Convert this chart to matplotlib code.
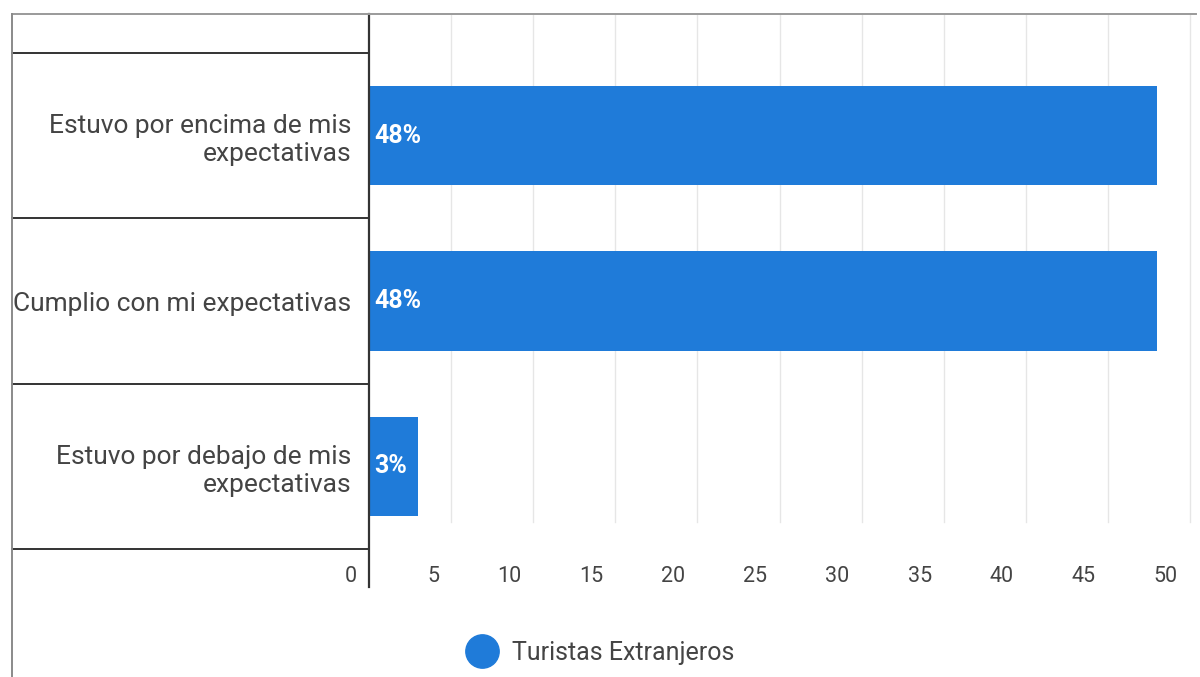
import matplotlib
matplotlib.use("Agg")
import matplotlib.pyplot as plt
from matplotlib.lines import Line2D
from matplotlib.transforms import ScaledTranslation, blended_transform_factory

plt.rcParams["font.family"] = ["Roboto", "DejaVu Sans"]

categories = [
    "Estuvo por encima de mis\nexpectativas",
    "Cumplio con mi expectativas",
    "Estuvo por debajo de mis\nexpectativas",
]
values = [48, 48, 3]
value_labels = ["48%", "48%", "3%"]
series_name = "Turistas Extranjeros"
x_ticks = [0, 5, 10, 15, 20, 25, 30, 35, 40, 45, 50]

BLUE = "#1f7bd9"
TEXT = "#444444"
W, H = 1200, 677

fig = plt.figure(figsize=(W / 100, H / 100), dpi=100)
fig.patch.set_facecolor("white")

# plot area in pixel terms: x 369..1190, y 53..549
left, right, top, bottom = 369, 1190, 53, 549
ax = fig.add_axes([left / W, 1 - bottom / H, (right - left) / W, (bottom - top) / H])
ax.set_facecolor("none")

ypos = list(range(len(categories)))
ax.barh(ypos, values, height=0.6, color=BLUE, zorder=3)
ax.set_xlim(0, 50)
ax.set_ylim(len(categories) - 0.5, -0.5)

for s in ax.spines.values():
    s.set_visible(False)

# vertical gridlines (extend up to the outer frame)
gy_top = (bottom - 14) / (bottom - top)
gy_bot = (bottom - 522) / (bottom - top)
xt = ax.get_xaxis_transform()
for t in x_ticks[1:]:
    ax.plot([t, t], [gy_bot, gy_top], transform=xt, color="#e6e6e6", lw=1.0,
            clip_on=False, zorder=1)

# baseline axis
ax.plot([0, 0], [(bottom - 587) / (bottom - top), gy_top], transform=xt,
        color="#333333", lw=1.6, clip_on=False, zorder=4)

# separators between category rows on the label side
bt = blended_transform_factory(fig.transFigure, ax.transData)
for b in [-0.5, 0.5, 1.5, 2.5]:
    ax.plot([12 / W, left / W], [b, b], transform=bt, color="#333333", lw=1.4,
            clip_on=False, zorder=4)

# outer frame (top and left edges)
fig.add_artist(Line2D([12 / W, 1196 / W], [1 - 14 / H, 1 - 14 / H],
                      color="#9a9a9a", lw=1.4))
fig.add_artist(Line2D([12 / W, 12 / W], [1 - 14 / H, 0],
                      color="#8a8a8a", lw=1.4))

# ticks and labels (right-aligned, just left of each gridline)
ax.set_xticks(x_ticks)
ax.set_xticklabels([str(t) for t in x_ticks])
ax.tick_params(axis="x", length=0, pad=12, labelsize=15.5, labelcolor=TEXT)
shift = ScaledTranslation(-12 / 100, 0, fig.dpi_scale_trans)
for lab in ax.get_xticklabels():
    lab.set_horizontalalignment("right")
    lab.set_transform(lab.get_transform() + shift)

ax.set_yticks(ypos)
ax.set_yticklabels(categories)
ax.tick_params(axis="y", length=0, pad=13, labelsize=19, labelcolor=TEXT)
for lab in ax.get_yticklabels():
    lab.set_multialignment("right")
    lab.set_linespacing(1.22)

# value labels inside the bars
for y, v, txt in zip(ypos, values, value_labels):
    ax.annotate(txt, xy=(0, y), xytext=(4, 0), textcoords="offset points",
                ha="left", va="center", color="white", fontsize=18,
                fontweight="bold", zorder=5)

# legend
handle = Line2D([], [], marker="o", ls="", markersize=24, color=BLUE)
fig.legend([handle], [series_name], loc="center", bbox_to_anchor=(601 / W, 1 - 653 / H),
           frameon=False, fontsize=18, labelcolor=TEXT, handletextpad=0.6,
           handlelength=1.2)

fig.savefig("out.png", dpi=100, facecolor="white")
